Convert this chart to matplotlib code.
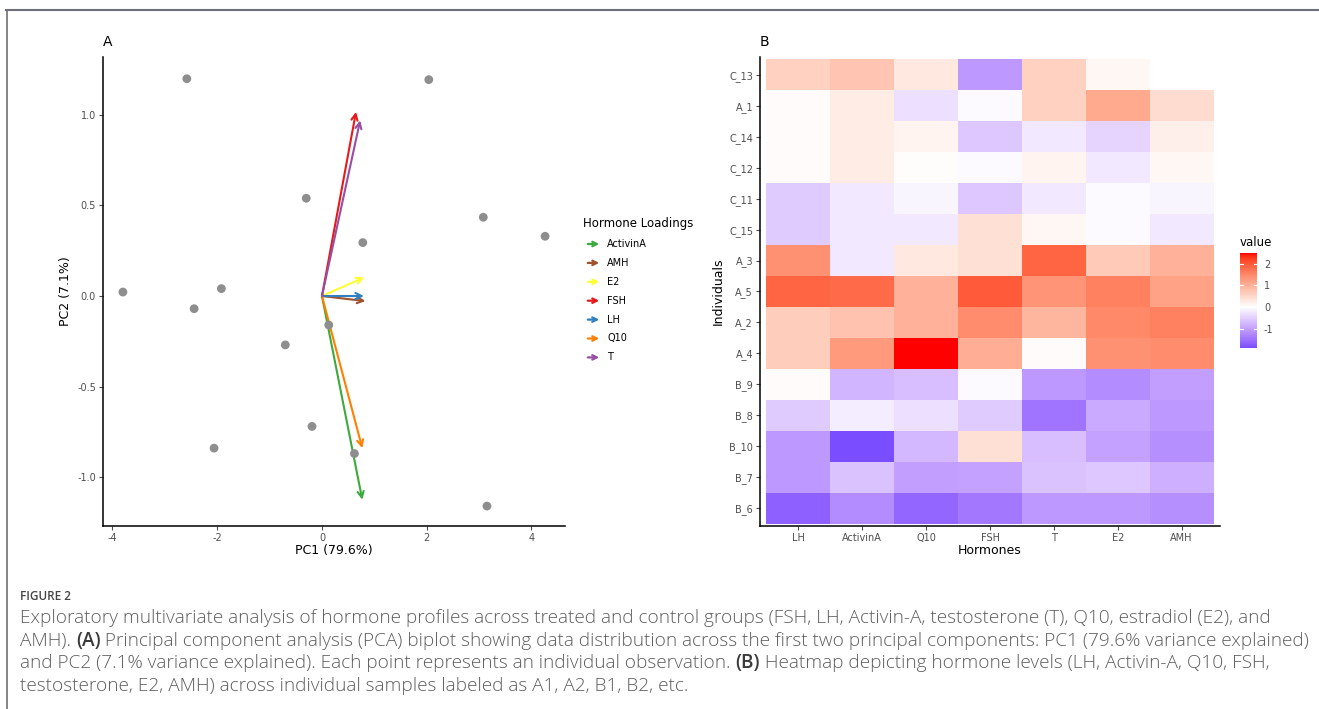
import numpy as np
import matplotlib
matplotlib.use("Agg")
import matplotlib.pyplot as plt
from matplotlib.colors import ListedColormap, Normalize
from matplotlib.patches import FancyArrowPatch
from matplotlib.lines import Line2D

W, H = 1319, 709

# --- panel A: PCA scores and loadings ---
pc1 = [-2.58, 2.04, -0.30, 3.08, 4.26, 0.78, -3.80, -1.92, -2.44, 0.13, -0.70, -0.19, -2.06, 0.62, 3.15]
pc2 = [1.20, 1.195, 0.54, 0.435, 0.33, 0.295, 0.022, 0.041, -0.07, -0.16, -0.27, -0.72, -0.84, -0.87, -1.16]

loading_names = ["ActivinA", "AMH", "E2", "FSH", "LH", "Q10", "T"]
loading_pc1 = [0.77, 0.83, 0.81, 0.65, 0.80, 0.77, 0.73]
loading_pc2 = [-1.125, -0.028, 0.103, 1.017, 0.0, -0.84, 0.97]
loading_colors = ["#3CAA3C", "#A0522D", "#FFFF33", "#E41A1C", "#2F7FC1", "#FF7F00", "#984EA3"]

# --- panel B: heatmap ---
individuals = ["C_13", "A_1", "C_14", "C_12", "C_11", "C_15", "A_3", "A_5",
               "A_2", "A_4", "B_9", "B_8", "B_10", "B_7", "B_6"]
hormones = ["LH", "ActivinA", "Q10", "FSH", "T", "E2", "AMH"]
heat_values = [
    [0.60, 0.75, 0.30, -1.10, 0.60, 0.10, np.nan],
    [0.05, 0.25, -0.35, -0.05, 0.60, 1.10, 0.45],
    [0.05, 0.25, 0.15, -0.60, -0.25, -0.45, 0.20],
    [0.05, 0.25, 0.02, -0.05, 0.15, -0.25, 0.10],
    [-0.55, -0.25, -0.10, -0.60, -0.25, -0.05, -0.10],
    [-0.55, -0.25, -0.25, 0.40, 0.10, -0.05, -0.25],
    [1.40, -0.25, 0.30, 0.40, 1.90, 0.70, 1.00],
    [1.90, 1.85, 1.00, 2.00, 1.35, 1.60, 1.20],
    [0.65, 0.80, 1.00, 1.45, 0.95, 1.50, 1.60],
    [0.65, 1.30, 2.50, 1.05, 0.05, 1.40, 1.45],
    [0.05, -0.80, -0.70, -0.05, -1.10, -1.25, -1.05],
    [-0.55, -0.20, -0.35, -0.55, -1.50, -0.90, -1.10],
    [-1.10, -1.90, -0.75, 0.40, -0.70, -1.00, -1.20],
    [-1.10, -0.65, -1.05, -1.00, -0.65, -0.60, -0.85],
    [-1.70, -1.25, -1.65, -1.45, -1.10, -1.10, -1.20],
]
cbar_ticks = [-1, 0, 1, 2]

caption_head = "FIGURE 2"
caption_lines = [
    [("Exploratory multivariate analysis of hormone profiles across treated and control groups (FSH, LH, Activin-A, testosterone (T), Q10, estradiol (E2), and", "normal")],
    [("AMH). ", "normal"), ("(A)", "bold"),
     (" Principal component analysis (PCA) biplot showing data distribution across the first two principal components: PC1 (79.6% variance explained)", "normal")],
    [("and PC2 (7.1% variance explained). Each point represents an individual observation. ", "normal"), ("(B)", "bold"),
     (" Heatmap depicting hormone levels (LH, Activin-A, Q10, FSH,", "normal")],
    [("testosterone, E2, AMH) across individual samples labeled as A1, A2, B1, B2, etc.", "normal")],
]


def srgb_to_lab(rgb):
    c = np.asarray(rgb, float)
    lin = np.where(c <= 0.04045, c / 12.92, ((c + 0.055) / 1.055) ** 2.4)
    m = np.array([[0.4124, 0.3576, 0.1805], [0.2126, 0.7152, 0.0722], [0.0193, 0.1192, 0.9505]])
    xyz = m @ lin / np.array([0.95047, 1.0, 1.08883])
    f = np.where(xyz > 0.008856, np.cbrt(xyz), 7.787 * xyz + 16 / 116)
    return np.array([116 * f[1] - 16, 500 * (f[0] - f[1]), 200 * (f[1] - f[2])])


def lab_to_srgb(lab):
    L, a, b = lab
    fy = (L + 16) / 116
    f = np.array([fy + a / 500, fy, fy - b / 200])
    xyz = np.where(f ** 3 > 0.008856, f ** 3, (f - 16 / 116) / 7.787) * np.array([0.95047, 1.0, 1.08883])
    m = np.array([[3.2406, -1.5372, -0.4986], [-0.9689, 1.8758, 0.0415], [0.0557, -0.2040, 1.0570]])
    lin = np.clip(m @ xyz, 0, 1)
    return np.where(lin <= 0.0031308, 12.92 * lin, 1.055 * lin ** (1 / 2.4) - 0.055).clip(0, 1)


# ggplot-like gradient2 (blue - white - red, interpolated in Lab)
lab_low, lab_mid, lab_high = srgb_to_lab([0, 0, 1]), srgb_to_lab([1, 1, 1]), srgb_to_lab([1, 0, 0])
ramp = []
for t in np.linspace(0, 1, 256):
    if t < 0.5:
        s = t / 0.5
        ramp.append(lab_to_srgb(lab_low + (lab_mid - lab_low) * s))
    else:
        s = (t - 0.5) / 0.5
        ramp.append(lab_to_srgb(lab_mid + (lab_high - lab_mid) * s))
cmap = ListedColormap(ramp)
cmap.set_bad("white")

data = np.array(heat_values, float)
vmax_abs = np.nanmax(np.abs(data))
norm = Normalize(-vmax_abs, vmax_abs)

fig = plt.figure(figsize=(W / 100, H / 100), dpi=100)
fig.patch.set_facecolor("white")


def frac(x0, y_top, x1, y_bot):
    return [x0 / W, 1 - y_bot / H, (x1 - x0) / W, (y_bot - y_top) / H]


def fpos(x, y):
    return (x / W, 1 - y / H)


tick_col = "#4d4d4d"

# ---------------- panel A ----------------
ax = fig.add_axes(frac(103, 57, 565, 526))
for name, x, y, col in zip(loading_names, loading_pc1, loading_pc2, loading_colors):
    ax.annotate("", xy=(x, y), xytext=(0, 0),
                arrowprops=dict(arrowstyle="->", color=col, lw=1.5, mutation_scale=11,
                                shrinkA=0, shrinkB=0), zorder=2)
ax.scatter(pc1, pc2, s=40, color="#8e8e8e", edgecolors="none", zorder=3)
ax.set_xlim(-4.18, 4.64)
ax.set_ylim(-1.27, 1.32)
ax.set_xticks([-4, -2, 0, 2, 4])
ax.set_yticks([-1.0, -0.5, 0.0, 0.5, 1.0])
ax.set_yticklabels(["-1.0", "-0.5", "0.0", "0.5", "1.0"])
ax.set_xticklabels(["-4", "-2", "0", "2", "4"])
for s in ["top", "right"]:
    ax.spines[s].set_visible(False)
for s in ["left", "bottom"]:
    ax.spines[s].set_linewidth(1.1)
ax.tick_params(labelsize=7, colors=tick_col, length=3, width=0.8, pad=2)
ax.set_xlabel("PC1 (79.6%)", fontsize=9, labelpad=1)
ax.set_ylabel("PC2 (7.1%)", fontsize=9, labelpad=4)
fig.text(*fpos(103, 42), "A", fontsize=10, ha="left", va="center")

# legend for loadings
fig.text(*fpos(583, 224), "Hormone Loadings", fontsize=8.5, ha="left", va="center")
for i, (name, col) in enumerate(zip(loading_names, loading_colors)):
    y = 244 + i * 18.9
    fig.add_artist(FancyArrowPatch(fpos(585, y), fpos(602, y), transform=fig.transFigure,
                                   arrowstyle="->", color=col, lw=1.6, mutation_scale=8))
    fig.text(*fpos(607, y), name, fontsize=7, ha="left", va="center")

# ---------------- panel B ----------------
bx = fig.add_axes(frac(760, 57, 1220, 526))
bx.pcolormesh(np.arange(len(hormones) + 1) - 0.5, np.arange(len(individuals) + 1) - 0.5,
              np.ma.masked_invalid(data), cmap=cmap, norm=norm, edgecolors="none")
bx.set_xlim(-0.6, len(hormones) - 0.4)
bx.set_ylim(len(individuals) - 0.5 + 0.08, -0.58)
bx.set_xticks(range(len(hormones)))
bx.set_xticklabels(hormones)
bx.set_yticks(range(len(individuals)))
bx.set_yticklabels(individuals)
for s in ["top", "right"]:
    bx.spines[s].set_visible(False)
for s in ["left", "bottom"]:
    bx.spines[s].set_linewidth(1.1)
bx.tick_params(labelsize=7, colors=tick_col, length=3, width=0.8, pad=2)
bx.set_xlabel("Hormones", fontsize=9, labelpad=1)
bx.set_ylabel("Individuals", fontsize=9, labelpad=3)
fig.text(*fpos(760, 42), "B", fontsize=10, ha="left", va="center")

# colour bar
cx = fig.add_axes(frac(1240, 253, 1257, 348))
dmin, dmax = np.nanmin(data), np.nanmax(data)
grad = np.linspace(dmin, dmax, 256).reshape(-1, 1)
cx.imshow(grad, cmap=cmap, norm=norm, aspect="auto", origin="lower", extent=[0, 1, dmin, dmax])
cx.set_xlim(0, 1)
cx.set_ylim(dmin, dmax)
cx.set_xticks([])
cx.yaxis.tick_right()
cx.set_yticks(cbar_ticks)
cx.set_yticklabels([str(t) for t in cbar_ticks])
cx.tick_params(axis="y", length=0, labelsize=7, colors=tick_col, pad=5)
for s in cx.spines.values():
    s.set_visible(False)
for t in cbar_ticks:
    cx.plot([0, 0.2], [t, t], color="white", lw=0.8)
    cx.plot([0.8, 1], [t, t], color="white", lw=0.8)
fig.text(*fpos(1240, 243), "value", fontsize=8.5, ha="left", va="center")

# ---------------- frame and caption ----------------
fig.add_artist(Line2D([6 / W, 1], [1 - 9.5 / H, 1 - 9.5 / H], transform=fig.transFigure,
                      color="#6f6f7a", lw=1.5))
fig.add_artist(Line2D([6.5 / W, 6.5 / W], [0, 1 - 9.5 / H], transform=fig.transFigure,
                      color="#6f6f7a", lw=1.2))

cap_font = ["Open Sans", "DejaVu Sans"]
cap_col = "#5e5e5e"
fig.text(*fpos(20, 596), caption_head, fontsize=8.5, color="#444444", ha="left", va="center",
         family=cap_font, fontweight="semibold")

renderer = fig.canvas.get_renderer()
# fit the font so the longest line spans its width in the reference
probe = fig.text(0, 0, "".join(p for p, _ in caption_lines[1]), fontsize=10, family=cap_font,
                 fontweight="light")
w10 = probe.get_window_extent(renderer).width
probe.remove()
cap_size = 10 * 1288 / w10

for row, pieces in enumerate(caption_lines):
    y = 618 + row * 22.7
    x = 20.0
    for text, weight in pieces:
        t = fig.text(*fpos(x, y), text, fontsize=cap_size,
                     color=cap_col if weight == "normal" else "#3a3a3a",
                     ha="left", va="center", family=cap_font,
                     fontweight="light" if weight == "normal" else "semibold")
        x += t.get_window_extent(renderer).width

fig.savefig("out.png", dpi=100)
